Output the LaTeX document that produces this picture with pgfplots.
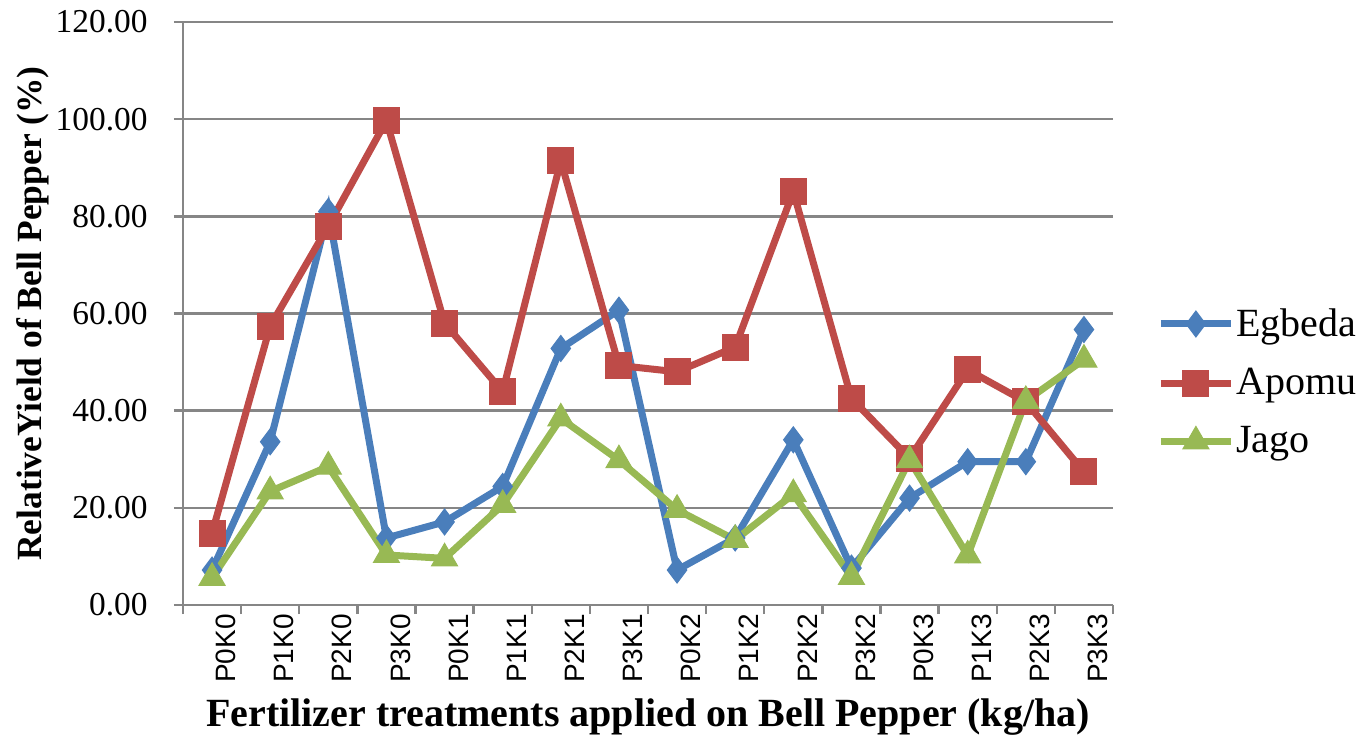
\documentclass[border=0pt]{standalone}
\usepackage{pgfplots}
\pgfplotsset{compat=1.18}
\usepackage{fontspec}
\setmainfont{Liberation Serif}
\newfontfamily\arialfont{Liberation Sans}
\definecolor{cblue}{HTML}{4A7EBB}
\definecolor{cred}{HTML}{BE4B48}
\definecolor{cgreen}{HTML}{98B954}
\definecolor{cgrid}{HTML}{868686}
\begin{document}
\begin{tikzpicture}
\begin{axis}[
  scale only axis,
  width=465pt, height=291.5pt,
  xmin=-0.5, xmax=15.5,
  ymin=0, ymax=120,
  axis lines=left,
  axis line style={-, draw=cgrid, line width=1.2pt},
  ytick={0,20,...,120},
  ymajorgrids,
  grid style={draw=cgrid, line width=1.2pt},
  major tick length=4.5pt,
  tick style={draw=cgrid, line width=1.2pt},
  tick align=outside,
  xtick={-0.5,0.5,...,15.5},
  x tick label as interval,
  xticklabels={P0K0,P1K0,P2K0,P3K0,P0K1,P1K1,P2K1,P3K1,P0K2,P1K2,P2K2,P3K2,P0K3,P1K3,P2K3,P3K3},
  xticklabel style={rotate=90, anchor=east, font=\arialfont\fontsize{14}{16}\selectfont, inner sep=0pt, yshift=-7pt},
  yticklabel style={/pgf/number format/.cd, fixed, fixed zerofill, precision=2, /pgf/number format/assume math mode=true, /tikz/.cd, font=\fontsize{16.7}{19}\selectfont, inner sep=0pt, xshift=-13pt},
  xlabel={\textbf{Fertilizer treatments applied on Bell Pepper (kg/ha)}},
  ylabel={\textbf{RelativeYield of Bell Pepper (\%)}},
  xlabel style={font=\fontsize{20}{24}\selectfont, at={(rel axis cs:0.5,0)}, yshift=-46.5pt, anchor=north, inner sep=0pt},
  ylabel style={font=\fontsize{17.7}{21}\selectfont, xshift=0pt},
  legend style={draw=none, fill=none, at={(rel axis cs:1,0.382)}, anchor=west, xshift=22pt,
    font=\fontsize{20}{24}\selectfont, row sep=12.5pt, inner sep=0pt,
    nodes={inner sep=1pt}},
  legend cell align=left,
  legend image code/.code={
    \draw[mark repeat=2, mark phase=2] plot coordinates {(0pt,0pt) (17.5pt,0pt) (35pt,0pt)};
  },
  every axis plot/.append style={line width=3.5pt, mark options={solid}},
  clip=false,
]
\addplot[cblue, mark=diamond*, mark size=6.5pt, mark options={line width=0.5pt, fill=cblue}] coordinates {
(0,7.2) (1,33.6) (2,81.0) (3,13.8) (4,17.1) (5,24.4) (6,52.8) (7,60.7)
(8,7.2) (9,13.8) (10,34.0) (11,7.6) (12,22.0) (13,29.5) (14,29.5) (15,56.7)};
\addlegendentry{Egbeda}
\addplot[cred, mark=square*, mark size=6.5pt, mark options={line width=0.5pt, fill=cred}] coordinates {
(0,14.8) (1,57.4) (2,78.0) (3,99.7) (4,58.0) (5,43.9) (6,91.4) (7,49.3)
(8,48.0) (9,53.1) (10,85.1) (11,42.5) (12,30.2) (13,48.4) (14,41.8) (15,27.4)};
\addlegendentry{Apomu}
\addplot[cgreen, mark=triangle*, mark size=7.5pt, mark options={line width=0.5pt, fill=cgreen}] coordinates {
(0,5.6) (1,23.4) (2,28.5) (3,10.3) (4,9.6) (5,20.6) (6,38.4) (7,29.8)
(8,19.6) (9,13.4) (10,22.8) (11,5.8) (12,29.8) (13,10.2) (14,42.0) (15,50.5)};
\addlegendentry{Jago}
\coordinate (sw) at (rel axis cs:0,0);
\end{axis}
\pgfresetboundingbox
\path[use as bounding box] (sw) ++(-91.5pt,-64.5pt) rectangle ++(682pt,367pt);
\end{tikzpicture}
\end{document}
